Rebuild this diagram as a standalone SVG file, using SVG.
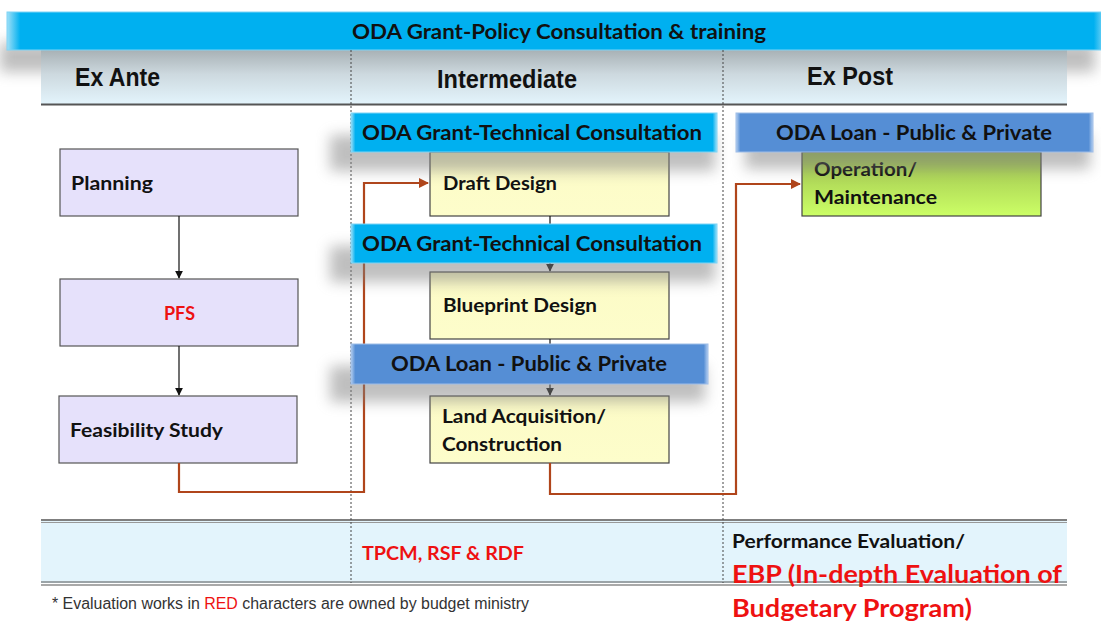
<svg xmlns="http://www.w3.org/2000/svg" width="1101" height="625" viewBox="0 0 1101 625">
<defs>
<style>
.t{font-family:Lato,"Liberation Sans",sans-serif;font-weight:bold;fill:#111}
.red{fill:#ee1111}
.hd{font-family:"Liberation Sans Narrow","Liberation Sans",sans-serif;font-weight:bold;font-size:25px;fill:#111}
.lav{fill:#e6e1fb;stroke:#555;stroke-width:1.2}
.yel{fill:url(#gy);stroke:#444;stroke-width:1.2}
.cy{fill:url(#gc);stroke:#7fd4f5;stroke-width:1}
.bl{fill:url(#gb);stroke:#9ebde8;stroke-width:1}
.blk{stroke:#111;stroke-width:1.2;fill:none;marker-end:url(#ab)}
.org{stroke:#b0451b;stroke-width:2.2;fill:none}
.sh{fill:#808080;opacity:0.5;filter:url(#blur)}
.dash{stroke:#444;stroke-width:1;stroke-dasharray:2,2}
</style>
<filter id="blur" x="-20%" y="-80%" width="140%" height="260%"><feGaussianBlur stdDeviation="7"/></filter>
<linearGradient id="gc" x1="0" y1="0" x2="1" y2="0">
<stop offset="0" stop-color="#9fe0f8"/><stop offset="0.012" stop-color="#00b0f0"/><stop offset="0.988" stop-color="#00b0f0"/><stop offset="1" stop-color="#9fe0f8"/>
</linearGradient>
<linearGradient id="gb" x1="0" y1="0" x2="1" y2="0">
<stop offset="0" stop-color="#b5cff0"/><stop offset="0.012" stop-color="#558ed5"/><stop offset="0.988" stop-color="#558ed5"/><stop offset="1" stop-color="#b5cff0"/>
</linearGradient>
<linearGradient id="gy" x1="0" y1="0" x2="0" y2="1">
<stop offset="0" stop-color="#fcfbc6"/><stop offset="1" stop-color="#fdfdcb"/>
</linearGradient>
<linearGradient id="gg" x1="0" y1="0" x2="0" y2="1">
<stop offset="0" stop-color="#9bbd4e"/><stop offset="1" stop-color="#ccff66"/>
</linearGradient>
<linearGradient id="gh" x1="0" y1="0" x2="0" y2="1">
<stop offset="0" stop-color="#a8b1b5"/><stop offset="0.45" stop-color="#cdd9df"/><stop offset="1" stop-color="#e3f4fc"/>
</linearGradient>
<marker id="ab" viewBox="0 0 10 10" refX="9" refY="5" markerWidth="8" markerHeight="8" markerUnits="userSpaceOnUse" orient="auto"><path d="M0,0 L10,5 L0,10 z" fill="#111"/></marker>
<marker id="ao" viewBox="0 0 10 10" refX="9" refY="5" markerWidth="12" markerHeight="10" markerUnits="userSpaceOnUse" orient="auto"><path d="M0,0 L10,5 L0,10 z" fill="#b0451b"/></marker>
</defs>

<rect width="1101" height="625" fill="#ffffff"/>

<rect class="sh" x="0" y="42" width="1095" height="30"/>
<g id="header">
<rect x="41" y="50" width="1026" height="54" fill="url(#gh)"/>
<line x1="41" y1="104.5" x2="1067" y2="104.5" stroke="#555" stroke-width="2"/>
<text class="hd" x="75" y="86" textLength="85" lengthAdjust="spacingAndGlyphs">Ex Ante</text>
<text class="hd" x="437" y="88" textLength="140" lengthAdjust="spacingAndGlyphs">Intermediate</text>
<text class="hd" x="807" y="85" textLength="86" lengthAdjust="spacingAndGlyphs">Ex Post</text>
</g>

<g id="topbanner">
<rect x="7" y="12" width="1100" height="38" class="cy"/>
<text class="t" x="559" y="39" font-size="20" text-anchor="middle" textLength="414" lengthAdjust="spacingAndGlyphs">ODA Grant-Policy Consultation &amp; training</text>
</g>

<g id="bottomband">
<rect x="41" y="521" width="1026" height="62" fill="#e3f4fc"/>
<line x1="41" y1="520" x2="1067" y2="520" stroke="#555" stroke-width="1.5"/>
<line x1="41" y1="522.5" x2="1067" y2="522.5" stroke="#999" stroke-width="1"/>
<line x1="41" y1="582" x2="1067" y2="582" stroke="#555" stroke-width="1.2"/>
<line x1="41" y1="585" x2="1067" y2="585" stroke="#555" stroke-width="1.2"/>
<text class="t red" x="362" y="560" font-size="18" textLength="162" lengthAdjust="spacingAndGlyphs">TPCM, RSF &amp; RDF</text>
<text class="t" x="732" y="548" font-size="18" textLength="233" lengthAdjust="spacingAndGlyphs">Performance Evaluation/</text>
<text class="t red" x="732" y="583" font-size="25" textLength="330" lengthAdjust="spacingAndGlyphs">EBP (In-depth Evaluation of</text>
<text class="t red" x="732" y="617" font-size="25" textLength="240" lengthAdjust="spacingAndGlyphs">Budgetary Program)</text>
</g>

<line class="dash" x1="351" y1="50" x2="351" y2="583"/>
<line class="dash" x1="723" y1="50" x2="723" y2="583"/>

<text id="footnote" x="52" y="609" font-family="'Liberation Sans Narrow','Liberation Sans',sans-serif" font-size="16" fill="#333" textLength="477" lengthAdjust="spacingAndGlyphs">* Evaluation works in <tspan fill="#ee1111">RED</tspan> characters are owned by budget ministry</text>

<g id="planning"><rect class="lav" x="60" y="149" width="238" height="67"/><text class="t" x="71" y="190" font-size="19" textLength="82" lengthAdjust="spacingAndGlyphs">Planning</text></g>
<g id="pfs"><rect class="lav" x="60" y="279" width="238" height="67"/><text class="t red" x="164" y="320" font-size="19" textLength="31" lengthAdjust="spacingAndGlyphs">PFS</text></g>
<g id="feasibility"><rect class="lav" x="59" y="396" width="238" height="67"/><text class="t" x="70" y="437" font-size="19" textLength="153" lengthAdjust="spacingAndGlyphs">Feasibility Study</text></g>

<g id="draft"><rect class="yel" x="430" y="152" width="239" height="64"/><text class="t" x="443" y="190" font-size="19" textLength="114" lengthAdjust="spacingAndGlyphs">Draft Design</text></g>
<g id="blueprint"><rect class="yel" x="430" y="272" width="239" height="67"/><text class="t" x="443" y="312" font-size="19" textLength="154" lengthAdjust="spacingAndGlyphs">Blueprint Design</text></g>
<g id="land"><rect class="yel" x="430" y="396" width="239" height="67"/><text class="t" x="442" y="423" font-size="19" textLength="164" lengthAdjust="spacingAndGlyphs">Land Acquisition/</text><text class="t" x="442" y="451" font-size="19" textLength="120" lengthAdjust="spacingAndGlyphs">Construction</text></g>

<g id="operation"><rect x="802" y="152" width="239" height="64" fill="url(#gg)" stroke="#444" stroke-width="1.2"/><text class="t" x="814" y="176" font-size="19" textLength="103" lengthAdjust="spacingAndGlyphs">Operation/</text><text class="t" x="814" y="204" font-size="19" textLength="123" lengthAdjust="spacingAndGlyphs">Maintenance</text></g>

<g id="connectors">
<line class="blk" x1="179" y1="216" x2="179" y2="278"/>
<line class="blk" x1="179" y1="346" x2="179" y2="395"/>
<line class="blk" x1="550" y1="216" x2="550" y2="271"/>
<line class="blk" x1="550" y1="339" x2="550" y2="395"/>
<path class="org" d="M179,463 V492 H364 V183 H428" marker-end="url(#ao)"/>
<path class="org" d="M550,463 V494 H736 V184 H800" marker-end="url(#ao)"/>
</g>

<rect class="sh" x="330" y="135" width="385" height="36"/>
<rect class="sh" x="330" y="246" width="385" height="36"/>
<rect class="sh" x="330" y="366" width="375" height="36"/>
<rect class="sh" x="745" y="135" width="345" height="34"/>

<g id="banner-tech1"><rect class="cy" x="351" y="113" width="366" height="39"/><text class="t" x="362" y="140" font-size="20" textLength="340" lengthAdjust="spacingAndGlyphs">ODA Grant-Technical Consultation</text></g>
<g id="banner-tech2"><rect class="cy" x="351" y="224" width="366" height="39"/><text class="t" x="362" y="251" font-size="20" textLength="340" lengthAdjust="spacingAndGlyphs">ODA Grant-Technical Consultation</text></g>
<g id="banner-loan1"><rect class="bl" x="351" y="344" width="357" height="40"/><text class="t" x="391" y="371" font-size="20" textLength="276" lengthAdjust="spacingAndGlyphs">ODA Loan - Public &amp; Private</text></g>
<g id="banner-loan2"><rect class="bl" x="736" y="113" width="357" height="39"/><text class="t" x="776" y="140" font-size="20" textLength="276" lengthAdjust="spacingAndGlyphs">ODA Loan - Public &amp; Private</text></g>
</svg>
